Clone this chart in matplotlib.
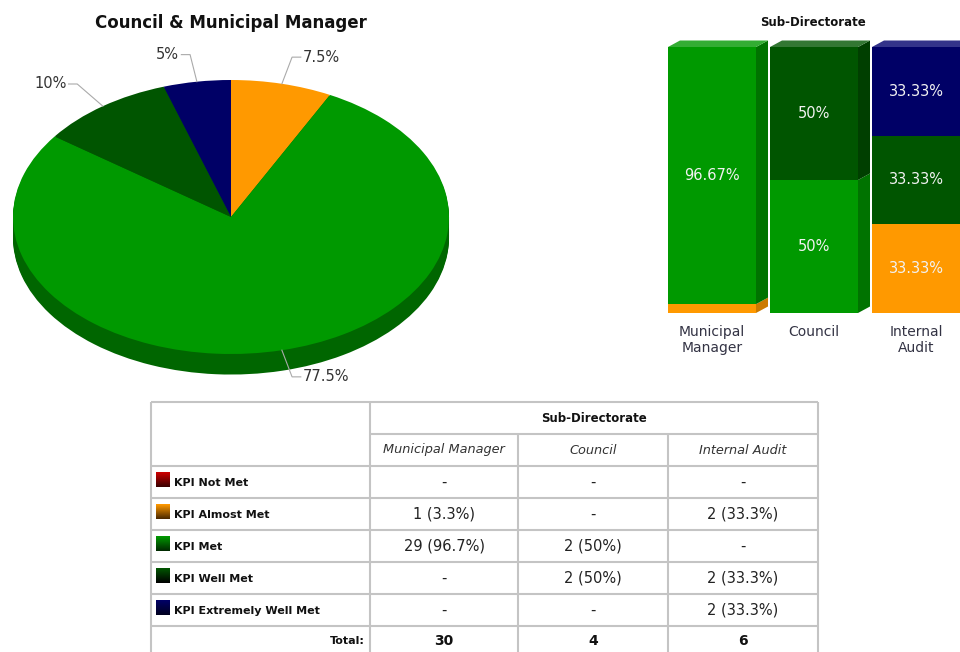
import numpy as np
import matplotlib
matplotlib.use("Agg")
import matplotlib.pyplot as plt
from matplotlib.patches import Polygon
from matplotlib.colors import LinearSegmentedColormap

W, H = 960, 652

# --- data ---
sub_directorates = ["Municipal Manager", "Council", "Internal Audit"]
bar_labels = ["Municipal\nManager", "Council", "Internal\nAudit"]
kpi_levels = ["KPI Not Met", "KPI Almost Met", "KPI Met", "KPI Well Met", "KPI Extremely Well Met"]
counts_mm = [0, 1, 29, 0, 0]
counts_council = [0, 0, 2, 2, 0]
counts_ia = [0, 2, 0, 2, 2]

# --- styles ---
kpi_colors = ["#cc0000", "#ff9900", "#009900", "#005500", "#000066"]
side_colors = ["#880000", "#cc7a00", "#007300", "#003f00", "#00004c"]
top_colors = ["#dd4444", "#ffb347", "#33ad33", "#337733", "#33338a"]
swatch_dark = ["#3a0000", "#4d2a00", "#002a00", "#000000", "#000020"]
pie_side = "#006600"


def px_box(x0, y0, x1, y1):
    return [x0 / W, 1 - y1 / H, (x1 - x0) / W, (y1 - y0) / H]


def fmt(v, nd):
    return f"{round(v, nd):g}"


counts = np.array([counts_mm, counts_council, counts_ia]).T   # levels x subdirs
totals = counts.sum(axis=0)
shares = counts / totals * 100

fig = plt.figure(figsize=(W / 100, H / 100), dpi=100)
fig.patch.set_facecolor("white")

# --- pie: all sub-directorates together ---
pie_counts = counts.sum(axis=1)
keep = pie_counts > 0
pie_vals = pie_counts[keep]
pie_cols = [c for c, k in zip(kpi_colors, keep) if k]
pie_pct = pie_vals / pie_vals.sum() * 100

ax_pie = fig.add_axes(px_box(0, 40, 462, 395))
depth = 0.15
for d in np.linspace(depth, 0.01, 15):
    ax_pie.pie(pie_vals, colors=[pie_side] * len(pie_vals), startangle=90,
               counterclock=False, center=(0, -d), wedgeprops=dict(linewidth=0))
ax_pie.pie(pie_vals, colors=pie_cols, startangle=90, counterclock=False,
           wedgeprops=dict(linewidth=0))
ax_pie.set_aspect("auto")
ax_pie.set_xlim(-231 / 218, 231 / 218)
ax_pie.set_ylim(-(395 - 217) / 137, (217 - 40) / 137)

mid = np.radians(90 - (np.cumsum(pie_pct) - pie_pct / 2) * 3.6)
for p, a in zip(pie_pct, mid):
    c, s = np.cos(a), np.sin(a)
    side = 1 if c >= 0 else -1
    xe, ye = 1.2 * c, 1.2 * s
    ax_pie.plot([c, xe, xe + side * 0.04], [s, ye, ye], color="#aaaaaa", lw=0.8,
                clip_on=False)
    ax_pie.text(xe + side * 0.05, ye, fmt(p, 1) + "%", ha="left" if side > 0 else "right",
                va="center", fontsize=10.5, color="#333333")

fig.text(231 / W, 1 - 23 / H, "Council & Municipal Manager", ha="center", va="center",
         fontsize=12, fontweight="bold", color="#111111")

# --- stacked 3D-style bars ---
ax_bar = fig.add_axes(px_box(655, 35, 960, 313))
ax_bar.axis("off")
x = np.arange(len(sub_directorates))
bar_w = 88 / 102
dx, dy = 12 / 102, 6.5 / 266 * 100
bottom = np.zeros(len(x))
for i in range(len(kpi_levels)):
    ax_bar.bar(x, shares[i], bottom=bottom, width=bar_w, color=kpi_colors[i], linewidth=0)
    for j in x:
        if shares[i, j] <= 0:
            continue
        b, t = bottom[j], bottom[j] + shares[i, j]
        x1 = j + bar_w / 2
        ax_bar.add_patch(Polygon([(x1, b), (x1 + dx, b + dy), (x1 + dx, t + dy), (x1, t)],
                                 closed=True, color=side_colors[i], lw=0))
        if shares[i, j] >= 5:
            ax_bar.text(j, (b + t) / 2, fmt(shares[i, j], 2) + "%", ha="center", va="center",
                        fontsize=10.5, color="#f2f2f2")
    bottom += shares[i]

for j in x:
    top_level = max(i for i in range(len(kpi_levels)) if shares[i, j] > 0)
    x0, x1, t = j - bar_w / 2, j + bar_w / 2, bottom[j]
    ax_bar.add_patch(Polygon([(x0, t), (x0 + dx, t + dy), (x1 + dx, t + dy), (x1, t)],
                             closed=True, color=top_colors[top_level], lw=0))
    ax_bar.text(j, -4.5, bar_labels[j], ha="center", va="top", fontsize=10,
                color="#333344", linespacing=1.15, clip_on=False)

ax_bar.set_xlim(-(712 - 655) / 102, (960 - 712) / 102)
ax_bar.set_ylim(0, (313 - 35) / 266 * 100)

fig.text(813 / W, 1 - 23 / H, "Sub-Directorate", ha="center", va="center",
         fontsize=8.5, fontweight="bold", color="#111111")

# --- table ---
ax_t = fig.add_axes([0, 0, 1, 1])
ax_t.axis("off")
col_x = [151, 370, 518, 668, 818]
row_y = [402, 434, 466, 498, 530, 562, 594, 626, 658]
grid = dict(color="#c4c4c4", lw=1.5, solid_capstyle="butt")

ax_t.plot([col_x[0], col_x[-1]], [row_y[0], row_y[0]], **grid)
ax_t.plot([col_x[1], col_x[-1]], [row_y[1], row_y[1]], **grid)
for y in row_y[2:]:
    ax_t.plot([col_x[0], col_x[-1]], [y, y], **grid)
for xc in (col_x[0], col_x[1], col_x[-1]):
    ax_t.plot([xc, xc], [row_y[0], row_y[-1]], **grid)
for xc in col_x[2:4]:
    ax_t.plot([xc, xc], [row_y[1], row_y[-1]], **grid)

ax_t.text((col_x[1] + col_x[-1]) / 2, (row_y[0] + row_y[1]) / 2, "Sub-Directorate",
          ha="center", va="center", fontsize=8.5, fontweight="bold", color="#111111")
for j, name in enumerate(sub_directorates):
    ax_t.text((col_x[j + 1] + col_x[j + 2]) / 2, (row_y[1] + row_y[2]) / 2, name,
              ha="center", va="center", fontsize=9.3, style="italic", color="#333333")

for i, level in enumerate(kpi_levels):
    yc = (row_y[i + 2] + row_y[i + 3]) / 2
    cmap = LinearSegmentedColormap.from_list("sw", [kpi_colors[i], swatch_dark[i]])
    ax_t.imshow(np.linspace(0, 1, 20).reshape(-1, 1), cmap=cmap, aspect="auto",
                extent=(156, 170, yc + 5, yc - 10), origin="upper", interpolation="bilinear")
    ax_t.text(174, yc + 1, level, ha="left", va="center", fontsize=8, fontweight="bold",
              color="#111111")
    for j in range(len(sub_directorates)):
        n = counts[i, j]
        txt = f"{n} ({fmt(shares[i, j], 1)}%)" if n > 0 else "-"
        ax_t.text((col_x[j + 1] + col_x[j + 2]) / 2, yc, txt, ha="center", va="center",
                  fontsize=10.5, color="#222222")

yt = (row_y[-2] + row_y[-1]) / 2 - 1
ax_t.text(col_x[1] - 5, yt, "Total:", ha="right", va="center", fontsize=8,
          fontweight="bold", color="#111111")
for j, tot in enumerate(totals):
    ax_t.text((col_x[j + 1] + col_x[j + 2]) / 2, yt, str(tot), ha="center", va="center",
              fontsize=10, fontweight="bold", color="#111111")

ax_t.set_xlim(0, W)
ax_t.set_ylim(H, 0)

fig.savefig("out.png", dpi=100, facecolor="white")
